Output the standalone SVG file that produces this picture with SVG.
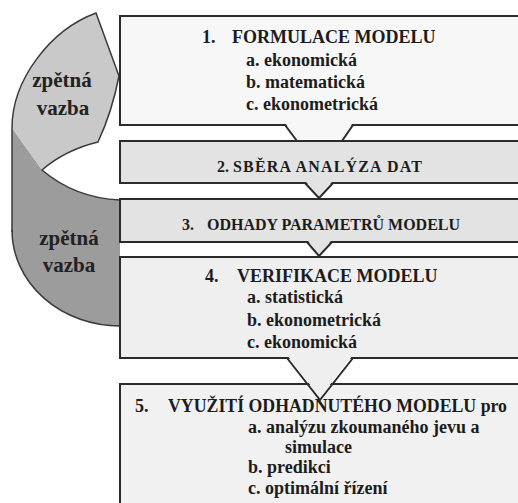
<svg xmlns="http://www.w3.org/2000/svg" width="518" height="503" viewBox="0 0 518 503" font-family="'Liberation Serif', 'DejaVu Serif', serif">
<style>
.box{stroke:#2b2b2b;stroke-width:2}
text{font-family:'Liberation Serif','DejaVu Serif',serif;font-weight:bold;fill:#1c1c1c}
.h1{font-size:18px}
.h2{font-size:16px}
.it{font-size:18px}
.fb{font-size:21px;fill:#222;text-anchor:middle}
.edge{fill:none;stroke:#2b2b2b;stroke-width:2;stroke-linejoin:miter}
.ol{fill:none;stroke:#3a3a3a;stroke-width:1.5}
</style>
<rect width="518" height="503" fill="#ffffff"/>

<g id="feedback">
  <path d="M12,128 L42,170 Q75,198 120,200 L120,326 A108,96 0 0 1 12,230 Z" fill="#9c9c9c"/>
  <path d="M12,128 C12,80 50,30 96,13 L119,76 Q112,112 98,142 Q65,150 42,170 Z" fill="#c9c9c9"/>
  <path class="ol" d="M12,232 L12,128 C12,80 50,30 96,13 L119,76 Q112,112 98,142 Q65,150 42,170 Q75,198 120,200"/>
  <path class="ol" d="M12,230 A108,96 0 0 0 120,326"/>
  <text class="fb" x="62" y="87">zpětná</text>
  <text class="fb" x="63" y="115">vazba</text>
  <text class="fb" x="69" y="245">zpětná</text>
  <text class="fb" x="69" y="272">vazba</text>
</g>

<g id="box1">
  <rect class="box" x="120" y="16" width="420" height="109" fill="#f7f7f7"/>
  <text class="h1" x="202" y="43">1.</text>
  <text class="h1" x="232" y="43">FORMULACE MODELU</text>
  <text class="it" x="246" y="66">a. ekonomická</text>
  <text class="it" x="246" y="88">b. matematická</text>
  <text class="it" x="246" y="110">c. ekonometrická</text>
</g>

<g id="connectors-a">
  <polygon points="285.5,123.5 297,139 342,139 352.5,123.5" fill="#f7f7f7"/>
  <polyline class="edge" points="285,125 297,141"/>
  <polyline class="edge" points="342,141 353,125"/>
</g>

<g id="box2">
  <rect class="box" x="120" y="141" width="420" height="42" fill="#e3e3e3"/>
  <text class="h2" x="217" y="172">2.</text>
  <text class="h2" x="233" y="172" textLength="189" lengthAdjust="spacing">SBĚRA ANALÝZA DAT</text>
</g>

<g id="box3">
  <rect class="box" x="120" y="199" width="420" height="43" fill="#e3e3e3"/>
  <text class="h2" x="182" y="230">3.</text>
  <text class="h2" x="207" y="230" textLength="253" lengthAdjust="spacing">ODHADY PARAMETRŮ MODELU</text>
</g>

<g id="box4">
  <rect class="box" x="120" y="257" width="420" height="101" fill="#efefef"/>
  <text class="h1" x="205" y="282">4.</text>
  <text class="h1" x="237" y="282">VERIFIKACE MODELU</text>
  <text class="it" x="247" y="303">a. statistická</text>
  <text class="it" x="247" y="326">b. ekonometrická</text>
  <text class="it" x="247" y="348">c. ekonomická</text>
</g>

<g id="box5">
  <rect class="box" x="120" y="384" width="420" height="130" fill="#f1f1f1"/>
  <text class="h1" x="135" y="412">5.</text>
  <text class="h1" x="168" y="412" textLength="339" lengthAdjust="spacingAndGlyphs">VYUŽITÍ ODHADNUTÉHO MODELU pro</text>
  <text class="it" x="248" y="433">a. analýzu zkoumaného jevu a</text>
  <text class="it" x="285" y="453">simulace</text>
  <text class="it" x="248" y="473">b. predikci</text>
  <text class="it" x="248" y="494">c. optimální řízení</text>
</g>

<g id="connectors">
  <polygon points="306,182 319,196 332,182" fill="#e3e3e3"/>
  <polyline class="edge" points="305,183 319,198 333,183"/>
  <polygon points="308,241 319,254 331,241" fill="#e3e3e3"/>
  <polyline class="edge" points="307,242 319,256 332,242"/>
  <polygon points="288.5,357 320,397.5 351.5,357" fill="#efefef"/>
  <polyline class="edge" points="287,358 320,400 353,358"/>
</g>
</svg>
